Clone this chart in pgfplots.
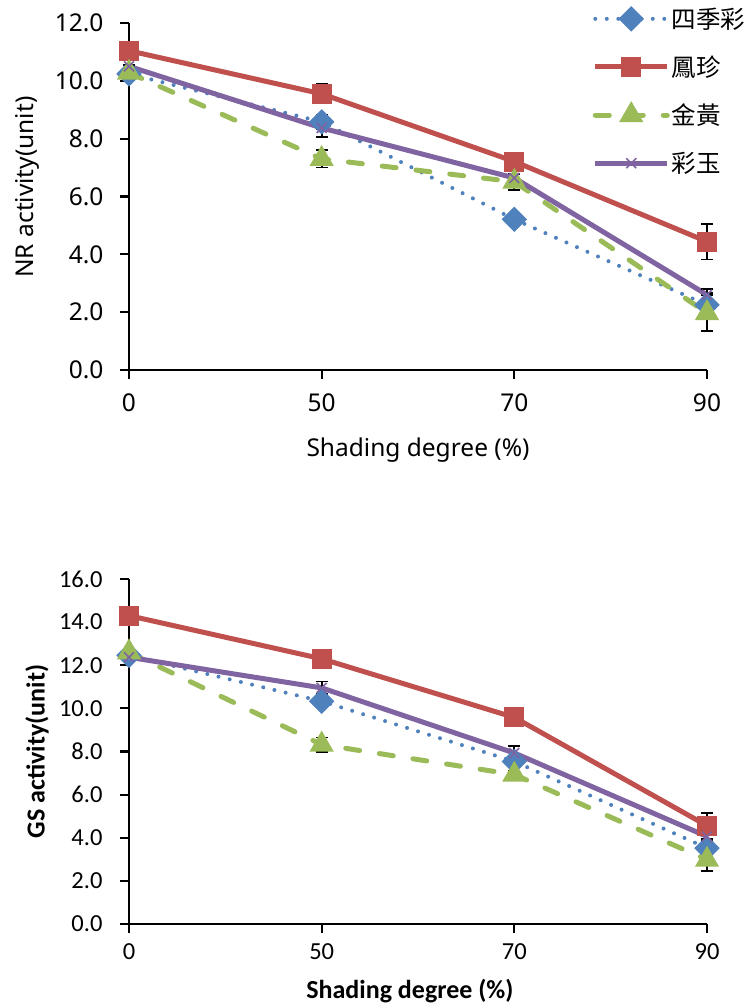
\documentclass[border=0pt]{standalone}
\usepackage{fontspec}
\setmainfont{Noto Sans}
\newfontfamily\calibri{Carlito}
\newfontfamily\cjk{Noto Sans CJK TC}
\usepackage{pgfplots}
\usepackage{pgfplotstable}
\pgfplotsset{compat=1.18}
\definecolor{sblue}{HTML}{4F81BD}
\definecolor{sred}{HTML}{C0504D}
\definecolor{sgreen}{HTML}{9BBB59}
\definecolor{spurple}{HTML}{8064A2}

% columns: a=四季彩, b=鳳珍, c=金黃, d=彩玉 ; *e = error
\pgfplotstableread{
x a ae b be c ce d de
0 10.24 0.05 11.04 0.05 10.28 0.05 10.50 0.05
1 8.58 0.25 9.55 0.33 7.30 0.30 8.37 0.30
2 5.21 0.18 7.21 0.15 6.51 0.28 6.64 0.25
3 2.25 0.40 4.44 0.62 1.97 0.61 2.60 0.20
}\nrdata

\pgfplotstableread{
x a ae b be c ce d de
0 12.46 0.10 14.30 0.10 12.60 0.10 12.37 0.10
1 10.33 0.20 12.30 0.15 8.32 0.33 10.95 0.30
2 7.54 0.20 9.58 0.15 6.93 0.15 7.93 0.33
3 3.52 0.20 4.56 0.60 2.98 0.54 4.06 0.20
}\gsdata

\pgfplotsset{
  shade/.style={
    scale only axis, width=578pt,
    xmin=0, xmax=3, xtick={0,1,2,3}, xticklabels={0,50,70,90},
    ymin=0, ytick distance=2,
    axis lines=left, axis line style={-, line width=2.4pt, black},
    tick align=outside, major tick length=9pt,
    tick style={line width=2.2pt, black},
    yticklabel style={/pgf/number format/fixed, /pgf/number format/fixed zerofill,
      /pgf/number format/precision=1},
    /pgf/number format/assume math mode=true,
    clip=false,
    error bars/y dir=both, error bars/y explicit,
    error bars/error bar style={solid, line width=1.8pt, black, line cap=butt},
    error bars/error mark options={solid, rotate=90, mark size=6pt, line width=1.8pt, black},
  },
  sA/.style={sblue, line width=4pt, line cap=round, dash pattern=on 0pt off 11.5pt,
    mark=square*, mark size=7pt, mark options={solid, rotate=45, fill=sblue}},
  sB/.style={sred, line width=5pt, mark=square*, mark size=7.5pt, mark options={solid, fill=sred}},
  sC/.style={sgreen, line width=5pt, line cap=round, dash pattern=on 14pt off 20pt,
    mark=triangle*, mark size=9pt, mark options={solid, fill=sgreen}},
  sD/.style={spurple, line width=5pt, mark=x, mark size=7pt, mark options={solid, line width=1.6pt}},
}

\begin{document}
\begin{tikzpicture}
\useasboundingbox (0pt,0pt) rectangle (744pt,1004pt);

% NR activity
\begin{axis}[shade,
  at={(129pt,634pt)}, anchor=south west, height=347pt,
  ymax=12,
  tick label style={font=\fontsize{24.5}{24.5}\selectfont},
  xticklabel style={yshift=-11pt},
  yticklabel style={xshift=-13pt},
  label style={font=\fontsize{24.5}{24.5}\selectfont},
  ylabel={NR activity(unit)},
  ylabel style={at={(axis description cs:-0.176,0.527)}, anchor=center},
  xlabel={Shading degree (\%)},
  xlabel style={at={(axis description cs:0.5,-0.23)}, anchor=center},
  legend style={at={(axis description cs:0.802,1.05)}, anchor=north west,
    draw=none, fill=none, font=\cjk\fontsize{24.5}{24.5}\selectfont,
    row sep=22pt, inner sep=0pt,
    nodes={inner sep=2pt}},
  legend cell align=left,
  legend image code/.code={\draw[mark repeat=2, mark phase=2, #1] plot coordinates {(0pt,0pt) (36pt,0pt) (72pt,0pt)};},
]
\addplot[sA] table[x=x, y=a, y error=ae] {\nrdata};
\addlegendentry{四季彩}
\addplot[sB] table[x=x, y=b, y error=be] {\nrdata};
\addlegendentry{鳳珍}
\addplot[sC] table[x=x, y=c, y error=ce] {\nrdata};
\addlegendentry{金黃}
\addplot[sD] table[x=x, y=d, y error=de] {\nrdata};
\addlegendentry{彩玉}
\end{axis}

% GS activity
\begin{axis}[shade,
  at={(129pt,80pt)}, anchor=south west, height=345pt,
  ymax=16,
  tick label style={font=\calibri\fontsize{24.5}{24.5}\selectfont},
  xticklabel style={yshift=-7pt},
  yticklabel style={xshift=-14pt},
  label style={font=\calibri\bfseries\fontsize{26}{26}\selectfont},
  ylabel={GS activity(unit)},
  ylabel style={at={(axis description cs:-0.159,0.5)}, anchor=center},
  xlabel={Shading degree (\%)},
  xlabel style={at={(axis description cs:0.486,-0.193)}, anchor=center},
]
\addplot[sA] table[x=x, y=a, y error=ae] {\gsdata};
\addplot[sB] table[x=x, y=b, y error=be] {\gsdata};
\addplot[sC] table[x=x, y=c, y error=ce] {\gsdata};
\addplot[sD] table[x=x, y=d, y error=de] {\gsdata};
\end{axis}
\end{tikzpicture}
\end{document}
